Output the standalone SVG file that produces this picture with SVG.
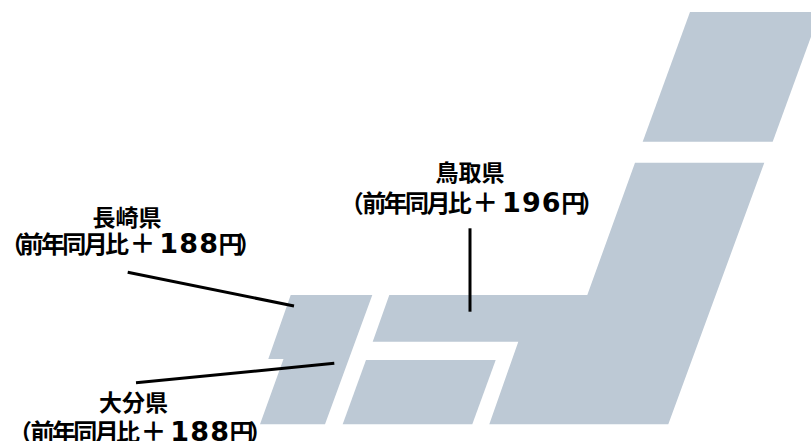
<svg xmlns="http://www.w3.org/2000/svg" width="811" height="441" viewBox="0 0 811 441">
<style>
.land{fill:#bdc9d5;stroke:none}
.lbl{font-family:"Noto Sans CJK JP","Noto Sans",sans-serif;font-weight:bold;font-size:23px;fill:#000}
.t1{text-anchor:middle}
.sub{font-size:24px;letter-spacing:-2.6px}
.plus{font-size:26px}
.num{font-family:"DejaVu Sans","Noto Sans CJK JP",sans-serif;font-size:27px;letter-spacing:1.2px}
.conn{stroke:#000;stroke-width:3;fill:none}
</style>
<rect width="811" height="441" fill="#fff"/>
<g id="map">
<polygon id="hokkaido" class="land" points="690,12 820,12 772.7,141.7 642.7,141.7"/>
<polygon id="honshu" class="land" points="635,162.7 764.3,162.7 668.3,424.3 489.3,424.3 518.3,341.7 372.7,341.7 389.3,295 587.3,295"/>
<polygon id="shikoku" class="land" points="366,360 495.7,360 472.3,424.3 342.7,424.3"/>
<polygon id="kyushu" class="land" points="290.7,295 372.3,295 325,424.3 260,424.3 283.5,359 268.3,359"/>
</g>
<g id="connectors">
<line class="conn" x1="127.7" y1="272.3" x2="294" y2="306"/>
<line class="conn" x1="136" y1="382.7" x2="334.3" y2="363.3"/>
<line class="conn" x1="470" y1="228.3" x2="470" y2="311.7"/>
</g>
<g id="nagasaki">
<text class="lbl t1" x="127" y="225.5">長崎県</text>
<text class="lbl sub" y="253"><tspan x="0">（</tspan><tspan x="19.5">前年同月比</tspan><tspan class="plus" x="129.6">＋</tspan><tspan class="num" x="159.2">188</tspan><tspan x="218.5">円</tspan><tspan x="237.5">）</tspan></text>
</g>
<g id="tottori">
<text class="lbl t1" x="470" y="180.5">鳥取県</text>
<text class="lbl sub" y="212"><tspan x="339.7">（</tspan><tspan x="362.2">前年同月比</tspan><tspan class="plus" x="472.3">＋</tspan><tspan class="num" x="501.9">196</tspan><tspan x="561.2">円</tspan><tspan x="580.2">）</tspan></text>
</g>
<g id="oita">
<text class="lbl t1" x="133.5" y="410.5">大分県</text>
<text class="lbl sub" y="440.5"><tspan x="8">（</tspan><tspan x="30.5">前年同月比</tspan><tspan class="plus" x="140.6">＋</tspan><tspan class="num" x="170.2">188</tspan><tspan x="229.5">円</tspan><tspan x="248.5">）</tspan></text>
</g>
</svg>
